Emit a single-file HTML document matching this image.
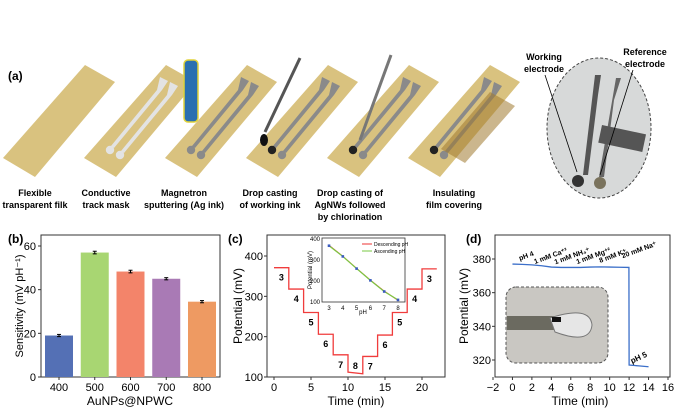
<!DOCTYPE html>
<html><head><meta charset="utf-8"><style>
html,body{margin:0;padding:0;background:#fff;}
svg{display:block;font-family:"Liberation Sans",Arial,sans-serif;}
</style></head><body>
<svg id="fig" width="677" height="408" viewBox="0 0 677 408" xmlns="http://www.w3.org/2000/svg">
<g id="panelA">
<text x="8" y="80" font-size="12" font-weight="bold">(a)</text>
</g>
<g id="panelB"></g>
<g id="panelC"></g>
<g id="panelD"></g>
</svg>
<script>
// ---- panel b data
const bCategories = ["400","500","600","700","800"];
const bValues = [19, 57, 48.3, 45, 34.5];
const bErrors = [0.5, 0.6, 0.6, 0.5, 0.5];
const bTicks = [0, 20, 40, 60];
// ---- panel c data
const cTimes = [0, 2, 4, 6, 8, 10, 12, 14, 16, 18, 20, 22];
const cLevelStart = [371, 318, 260, 206, 155, 112, 151, 204, 260, 318, 368];
const cLevelEnd = [371, 318, 260, 206, 155, 108, 151, 204, 260, 318, 368];
const cPH = ["3","4","5","6","7","8","7","6","5","4","3"];
const cXTicks = [0, 5, 10, 15, 20];
const cYTicks = [100, 200, 300, 400];
const insetPH = [3, 4, 5, 6, 7, 8];
const insetDesc = [370, 318, 260, 204, 152, 108];
const insetAsc = [368, 317, 259, 203, 150, 110];
const insetXTicks = [3, 4, 5, 6, 7, 8];
const insetYTicks = [100, 200, 300, 400];
// ---- panel d data
const dTimes = [0, 1, 2, 3, 4, 5, 6, 7, 8, 9, 10, 11, 11.98, 12, 13, 14];
const dValues = [377, 376.8, 376.5, 376, 375.2, 375, 375, 375, 375.2, 375.3, 375.2, 375.1, 375, 317, 316.5, 316];
const dXTicks = [-2, 0, 2, 4, 6, 8, 10, 12, 14, 16];
const dYTicks = [320, 340, 360, 380];
const dLabels = ["pH 4","1 mM Ca\u207A\u00B2","1 mM NH\u2084\u207A","1 mM Mg\u207A\u00B2","8 mM K\u207A","20 mM Na\u207A"];
const dLabelTimes = [1.5, 4, 6.2, 8.4, 10.4, 13.1];

const NS = "http://www.w3.org/2000/svg";
function mk(parent, tag, attrs, text){
  const e = document.createElementNS(NS, tag);
  for (const k in attrs) e.setAttribute(k, attrs[k]);
  if (text !== undefined) e.textContent = text;
  parent.appendChild(e);
  return e;
}

// ================= Panel A (illustration) =================
const A = document.getElementById('panelA');
const steps = [["Flexible","transparent filk"],["Conductive","track mask"],["Magnetron","sputtering (Ag ink)"],["Drop casting","of working ink"],["Drop casting of","AgNWs followed","by chlorination"],["Insulating","film covering"]];
const labelX = [35, 106, 184, 270, 350, 454];
for (let i = 0; i < 6; i++) {
  const dx = i * 81;
  const sub = mk(A, 'polygon', {points:`${85+dx},65 ${115+dx},82 ${35+dx},177 ${3+dx},158`, fill:'#d9c27f'});
  
  
  if (i >= 1) {
    const col = i === 1 ? '#e3e3e3' : '#8a8a8a';
    for (let t = 0; t < 2; t++) {
      const ox = dx + t*10, oy = t*5;
      const tr = mk(A, 'path', {d:`M${79+ox},${77+oy} L${87+ox},${81+oy} L${81+ox},${90+oy} L${33+ox},${148+oy} L${30+ox},${146+oy} L${76+ox},${90+oy} Z`, fill:col});
      
      
      const pad = mk(A, 'circle', {cx:29+ox, cy:150+oy, r:4.2, fill:(i>=3 && t===0)?'#222':col});
      
      
    }
  }
  if (i === 5) {
    const film = mk(A, 'polygon', {points:`${85+dx},92 ${110+dx},106 ${60+dx},163 ${36+dx},149`, fill:'#a07a30', opacity:0.55});
    
    
  }
  steps[i].forEach((ln, j) => {
    const t = mk(A, 'text', {x:labelX[i], y:196 + j*12, 'font-size':9, 'font-weight':'bold', 'text-anchor':'middle'}, ln);
    
    
  });
}
const gun = mk(A, 'rect', {x:184, y:60, width:14, height:62, rx:4, fill:'#2a6fb0', stroke:'#e0d23a', 'stroke-width':1.5});


const d1 = mk(A, 'line', {x1:300, y1:58, x2:265, y2:132, stroke:'#555', 'stroke-width':3});


const dd = mk(A, 'ellipse', {cx:264, cy:140, rx:4, ry:6, fill:'#111'});


const d2 = mk(A, 'line', {x1:391, y1:55, x2:360, y2:140, stroke:'#777', 'stroke-width':3});


const ph = mk(A, 'ellipse', {cx:599, cy:128, rx:52, ry:70, fill:'#d7d9d9', stroke:'#444', 'stroke-dasharray':'3,2'});


mk(A, 'path', {d:'M595,75 L601,75 L598,95 L588,175 L583,175 Z', fill:'#555'});
mk(A, 'path', {d:'M616,78 L621,78 L614,100 L604,177 L599,177 Z', fill:'#666'});
mk(A, 'rect', {x:602, y:125, width:45, height:18, fill:'#555', transform:'rotate(12 602 125)'});
mk(A, 'circle', {cx:578, cy:181, r:6, fill:'#333'});
mk(A, 'circle', {cx:600, cy:183, r:6, fill:'#7a735d'});
mk(A, 'line', {x1:545, y1:75, x2:577, y2:172, stroke:'#000', 'stroke-width':0.8});
mk(A, 'line', {x1:633, y1:70, x2:600, y2:175, stroke:'#000', 'stroke-width':0.8});
[["Working",544,60],["electrode",544,72],["Reference",645,55],["electrode",645,67]].forEach(l=>{
  const t = mk(A,'text',{x:l[1],y:l[2],'font-size':9,'font-weight':'bold','text-anchor':'middle'},l[0]);
  
  
});

function frame(g, L, R, T, B){
  const f = mk(g, 'rect', {x:L, y:T, width:R-L, height:B-T, fill:'none', stroke:'#333', 'stroke-width':1});
  
  
}

// ================= Panel B =================
(function(){
  const g = document.getElementById('panelB');
  const L=41, R=220, T=235, B=377;
  const yS = v => B - v/60*(B-246);
  const xS = i => 59 + i*35.75;
  const colors = ['#5470b5','#a8d672','#f3846a','#a97ab5','#ee9a62'];
  frame(g, L, R, T, B);
  bTicks.forEach(v=>{
    mk(g,'line',{x1:L,x2:L-3,y1:yS(v),y2:yS(v),stroke:'#333'});
    const t = mk(g,'text',{x:L-5,y:yS(v)+4,'font-size':11,'text-anchor':'end'},String(v));
    
    
  });
  bCategories.forEach((c,i)=>{
    const x = xS(i);
    const r = mk(g,'rect',{x:x-14,y:yS(bValues[i]),width:28,height:B-yS(bValues[i]),fill:colors[i]});
    
    
    mk(g,'line',{x1:x,x2:x,y1:yS(bValues[i]+bErrors[i]),y2:yS(bValues[i]-bErrors[i]),stroke:'#000'});
    mk(g,'line',{x1:x-2,x2:x+2,y1:yS(bValues[i]+bErrors[i]),y2:yS(bValues[i]+bErrors[i]),stroke:'#000'});
    mk(g,'line',{x1:x-2,x2:x+2,y1:yS(bValues[i]-bErrors[i]),y2:yS(bValues[i]-bErrors[i]),stroke:'#000'});
    mk(g,'line',{x1:x,x2:x,y1:B,y2:B+3,stroke:'#333'});
    const t = mk(g,'text',{x:x,y:391,'font-size':11,'text-anchor':'middle'},c);
    
    
  });
  const xl = mk(g,'text',{x:130,y:405,'font-size':12,'text-anchor':'middle'},'AuNPs@NPWC');
  
  
  const yl = mk(g,'text',{x:0,y:0,'font-size':11,'text-anchor':'middle',transform:'translate(23,306) rotate(-90)'},'Sensitivity (mV pH\u207B\u00B9)');
  
  
  const pl = mk(g,'text',{x:8,y:243,'font-size':12,'font-weight':'bold'},'(b)');
  
  
})();

// ================= Panel C =================
(function(){
  const g = document.getElementById('panelC');
  const L=267, R=445, T=235, B=377;
  const xS = t => 274 + t*7.4;
  const yS = v => B - (v-100)/300*(B-256);
  frame(g, L, R, T, B);
  cXTicks.forEach(v=>{
    mk(g,'line',{x1:xS(v),x2:xS(v),y1:B,y2:B+3,stroke:'#333'});
    const t = mk(g,'text',{x:xS(v),y:391,'font-size':11,'text-anchor':'middle'},String(v));
    
    
  });
  cYTicks.forEach(v=>{
    mk(g,'line',{x1:L,x2:L-3,y1:yS(v),y2:yS(v),stroke:'#333'});
    const t = mk(g,'text',{x:L-4,y:yS(v)+4,'font-size':11,'text-anchor':'end'},String(v));
    
    
  });
  let d = '';
  cLevelStart.forEach((v,i)=>{
    d += (i===0?'M':'L') + xS(cTimes[i]) + ',' + yS(v) + ' L' + xS(cTimes[i+1]) + ',' + yS(cLevelEnd[i]) + ' ';
  });
  const p = mk(g,'path',{d:d,fill:'none',stroke:'#f03c3c','stroke-width':1.3});
  
  
  cPH.forEach((s,i)=>{
    const xm = (xS(cTimes[i])+xS(cTimes[i+1]))/2;
    const below = yS(cLevelStart[i]) + 13 < B - 2;
    const t = mk(g,'text',{x:xm,y: below ? yS(cLevelStart[i])+13 : yS(cLevelStart[i])-3,'font-size':9,'font-weight':'bold','text-anchor':'middle'},s);
    
    
  });
  const iL=322, iR=405, iT=238, iB=302;
  const ixS = v => 329 + (v-3)/5*(398-329);
  const iyS = v => iB - (v-100)/300*(iB-239);
  mk(g,'rect',{x:iL,y:iT,width:iR-iL,height:iB-iT,fill:'#fff',stroke:'#333','stroke-width':0.8});
  insetXTicks.forEach(v=>{
    const t = mk(g,'text',{x:ixS(v),y:iB+8,'font-size':6,'text-anchor':'middle'},String(v));
    
    
  });
  insetYTicks.forEach(v=>{
    const t = mk(g,'text',{x:iL-2,y:iyS(v)+2,'font-size':6,'text-anchor':'end'},String(v));
    
    
  });
  const pd = insetPH.map((v,i)=>(i?'L':'M')+ixS(v)+','+iyS(insetDesc[i])).join(' ');
  const pa = insetPH.map((v,i)=>(i?'L':'M')+ixS(v)+','+iyS(insetAsc[i])).join(' ');
  const l1 = mk(g,'path',{d:pd,fill:'none',stroke:'#e33','stroke-width':1});
  
  
  const l2 = mk(g,'path',{d:pa,fill:'none',stroke:'#7ac943','stroke-width':1.2});
  
  
  insetPH.forEach((v,i)=>{
    const m = mk(g,'rect',{x:ixS(v)-1.3,y:iyS(insetAsc[i])-1.3,width:2.6,height:2.6,fill:'#3a5bbf'});
    
    
  });
  mk(g,'line',{x1:362,x2:372,y1:244,y2:244,stroke:'#e33'});
  mk(g,'line',{x1:362,x2:372,y1:251,y2:251,stroke:'#7ac943'});
  mk(g,'text',{x:374,y:246,'font-size':5},'Descending pH');
  mk(g,'text',{x:374,y:253,'font-size':5},'Ascending pH');
  mk(g,'text',{x:363,y:314,'font-size':6,'text-anchor':'middle'},'pH');
  mk(g,'text',{x:0,y:0,'font-size':6,'text-anchor':'middle',transform:'translate(312,270) rotate(-90)'},'Potential (mV)');
  const xl = mk(g,'text',{x:356,y:405,'font-size':12,'text-anchor':'middle'},'Time (min)');
  
  
  const yl = mk(g,'text',{x:0,y:0,'font-size':12,'text-anchor':'middle',transform:'translate(242,306) rotate(-90)'},'Potential (mV)');
  
  
  const pl = mk(g,'text',{x:228,y:243,'font-size':12,'font-weight':'bold'},'(c)');
  
  
})();

// ================= Panel D =================
(function(){
  const g = document.getElementById('panelD');
  const L=495, R=670, T=235, B=377;
  const xS = t => 493 + (t+2)/18*(668-493);
  const yS = v => 360 - (v-320)/60*(360-259);
  frame(g, L, R, T, B);
  dXTicks.forEach(v=>{
    mk(g,'line',{x1:xS(v),x2:xS(v),y1:B,y2:B+3,stroke:'#333'});
    const t = mk(g,'text',{x:xS(v),y:391,'font-size':11,'text-anchor':'middle'},v<0?'\u2212'+(-v):String(v));
    
    
  });
  dYTicks.forEach(v=>{
    mk(g,'line',{x1:L,x2:L-3,y1:yS(v),y2:yS(v),stroke:'#333'});
    const t = mk(g,'text',{x:L-4,y:yS(v)+4,'font-size':11,'text-anchor':'end'},String(v));
    
    
  });
  const ins = mk(g,'rect',{x:506,y:287,width:102,height:76,rx:10,fill:'#c9c7c2',stroke:'#555','stroke-dasharray':'3,2'});
  
  
  mk(g,'rect',{x:507,y:316,width:50,height:14,fill:'#6b6a60'});
  mk(g,'path',{d:'M550,318 Q590,305 592,325 Q590,345 555,332 Z',fill:'#e6e6e6',stroke:'#777'});
  mk(g,'rect',{x:552,y:317,width:9,height:5,fill:'#111'});
  const ld = dTimes.map((t,i)=>(i?'L':'M')+xS(t)+','+yS(dValues[i])).join(' ');
  const line = mk(g,'path',{d:ld,fill:'none',stroke:'#3b6fc9','stroke-width':1.3});
  
  
  dLabels.forEach((s,i)=>{
    const x = xS(dLabelTimes[i]);
    const y = i === 5 ? 252 : 258;
    const t = mk(g,'text',{x:x,y:y,'font-size':7,'font-weight':'bold','text-anchor':'middle',transform:`rotate(-20 ${x} ${y})`},s);
    
    
  });
  const p5 = mk(g,'text',{x:xS(13.1),y:360,'font-size':8,'font-weight':'bold','text-anchor':'middle',transform:`rotate(-25 ${xS(13.1)} 360)`},'pH 5');
  
  
  const xl = mk(g,'text',{x:580,y:405,'font-size':12,'text-anchor':'middle'},'Time (min)');
  
  
  const yl = mk(g,'text',{x:0,y:0,'font-size':12,'text-anchor':'middle',transform:'translate(468,306) rotate(-90)'},'Potential (mV)');
  
  
  const pl = mk(g,'text',{x:466,y:243,'font-size':12,'font-weight':'bold'},'(d)');
  
  
})();
</script>
</body></html>
